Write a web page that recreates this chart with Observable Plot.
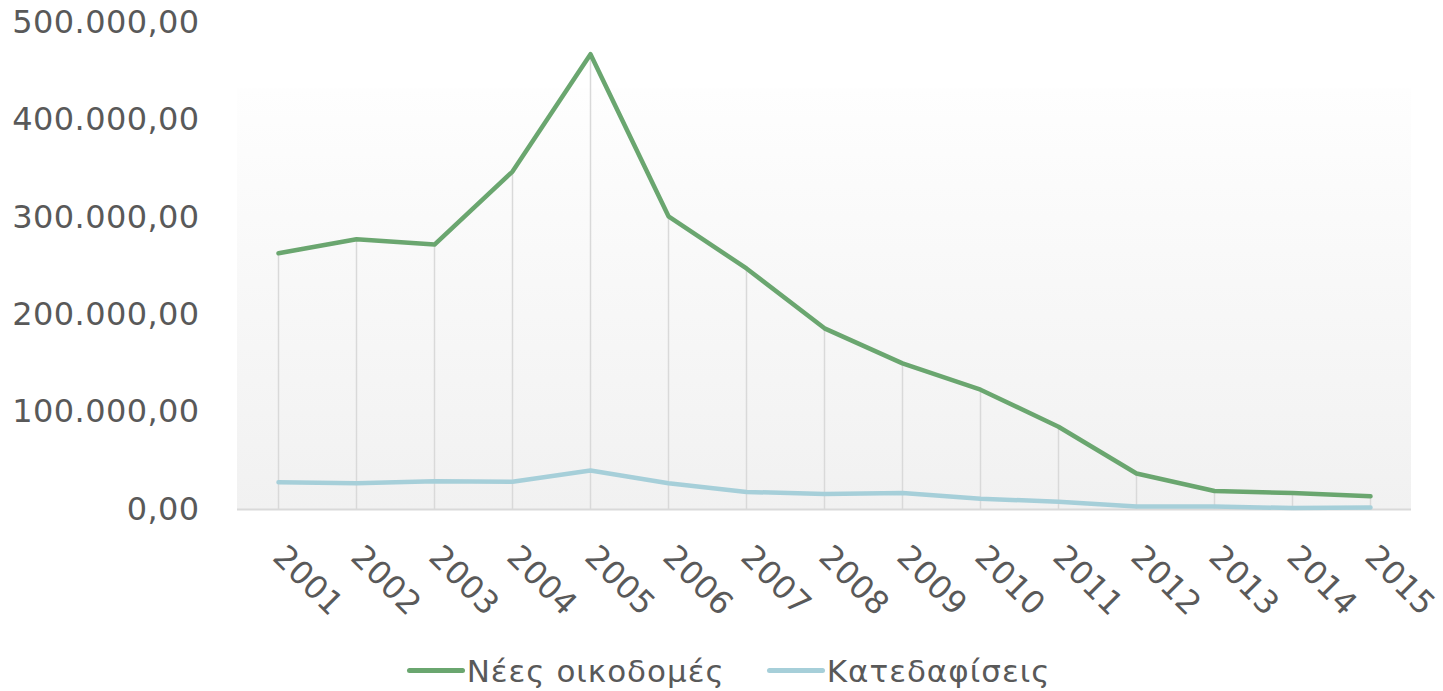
<!DOCTYPE html>
<html>
<head>
<meta charset="utf-8">
<script src="https://cdn.jsdelivr.net/npm/d3@7"></script>
<script src="https://cdn.jsdelivr.net/npm/@observablehq/plot@0.6"></script>
<style>
  html, body { margin: 0; padding: 0; background: #fff; }
  body { width: 1443px; font-family: "DejaVu Sans", sans-serif; }
  #legend { display: flex; justify-content: center; align-items: center; height: 41px; gap: 42px; color: #595959; font-size: 31px; letter-spacing: 1px; padding-left: 14px; }
  .item { display: flex; align-items: center; }
  .sw { width: 58px; height: 5px; border-radius: 3px; margin-right: 2px; }
</style>
</head>
<body>
<div id="chart"></div>
<div id="legend"></div>
<script>
const years = [2001,2002,2003,2004,2005,2006,2007,2008,2009,2010,2011,2012,2013,2014,2015];
const newBuildings = [263000,277500,272000,347000,467500,301000,247500,186000,150000,123000,85000,37000,19000,17000,13500];
const demolitions = [28000,27000,29000,28500,40000,27000,18000,16000,17000,11000,8000,3000,3000,1500,2000];
const seriesNames = ["Νέες οικοδομές", "Κατεδαφίσεις"];
const seriesColors = ["#6aa66f", "#a6cfd9"];
const yTicks = [0,100000,200000,300000,400000,500000];
const panelTop = 432000;

const locale = d3.formatLocale({decimal: ",", thousands: ".", grouping: [3], currency: ["", "€"]});
const fmt = locale.format(",.2f");

const rows = years.map((y, i) => ({year: String(y), a: newBuildings[i], b: demolitions[i]}));

const plot = Plot.plot({
  width: 1443,
  height: 650,
  marginLeft: 237,
  marginRight: 32,
  marginTop: 22,
  marginBottom: 141,
  style: {fontFamily: "DejaVu Sans, sans-serif", fontSize: "32px", color: "#595959", background: "transparent", letterSpacing: "0.4px"},
  x: {type: "point", domain: years.map(String), padding: 0.5, label: null, tickSize: 0, tickRotate: 45, tickPadding: 42},
  y: {domain: [0, 500000], ticks: yTicks, tickFormat: fmt, label: null, tickSize: 0, tickPadding: 38},
  marks: [
    Plot.rect([panelTop], {y1: 0, y2: d => d, fill: "url(#bggrad)"}),
    Plot.ruleX(rows, {x: "year", y1: 0, y2: "a", stroke: "#d9d9d9", strokeWidth: 1.5}),
    Plot.ruleY([0], {stroke: "#d9d9d9", strokeWidth: 2}),
    Plot.line(rows, {x: "year", y: "b", stroke: seriesColors[1], strokeWidth: 4.5, strokeLinecap: "round", strokeLinejoin: "round"}),
    Plot.line(rows, {x: "year", y: "a", stroke: seriesColors[0], strokeWidth: 4.5, strokeLinecap: "round", strokeLinejoin: "round"})
  ]
});

const ns = "http://www.w3.org/2000/svg";
const defs = document.createElementNS(ns, "defs");
const grad = document.createElementNS(ns, "linearGradient");
grad.setAttribute("id", "bggrad");
grad.setAttribute("x1", "0"); grad.setAttribute("y1", "0");
grad.setAttribute("x2", "0"); grad.setAttribute("y2", "1");
[["0%", "#fefefe"], ["100%", "#f1f1f1"]].forEach(([o, c]) => {
  const s = document.createElementNS(ns, "stop");
  s.setAttribute("offset", o); s.setAttribute("stop-color", c);
  grad.appendChild(s);
});
defs.appendChild(grad);
plot.insertBefore(defs, plot.firstChild);
document.getElementById("chart").appendChild(plot);

const legend = document.getElementById("legend");
seriesNames.forEach((n, i) => {
  const item = document.createElement("div");
  item.className = "item";
  const sw = document.createElement("div");
  sw.className = "sw";
  sw.style.background = seriesColors[i];
  const t = document.createElement("span");
  t.textContent = n;
  item.appendChild(sw); item.appendChild(t);
  legend.appendChild(item);
});
</script>
</body>
</html>
